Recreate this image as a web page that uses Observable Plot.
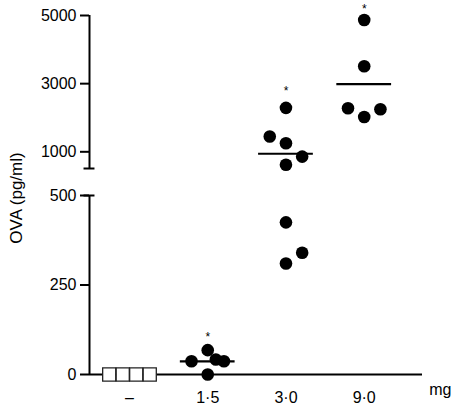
<!DOCTYPE html>
<html><head><meta charset="utf-8">
<script src="https://cdn.jsdelivr.net/npm/d3@7"></script>
<script src="https://cdn.jsdelivr.net/npm/@observablehq/plot@0.6"></script>
<style>
body{margin:0;background:#fff;}
#chart svg{font-family:"Liberation Sans",Arial,Helvetica,sans-serif;}
</style>
</head><body><div id="chart"></div>
<script>
// ---- data ----
const categories = ["–", "1·5", "3·0", "9·0"];
const unitLabel = "mg";
const yLabel = "OVA (pg/ml)";
const yTicks = [0, 250, 500, 1000, 3000, 5000];
const lowerSegment = [0, 500];
const upperSegment = [510, 5000];
const noneValues   = [0, 0, 0, 0];
const dose15Values = [68, 42, 37, 37, 0];
const dose30Values = [2290, 1450, 1250, 860, 620, 425, 340, 310];
const dose90Values = [4870, 3510, 2280, 2250, 2020];
// horizontal slot of each animal inside its column (scatter layout)
const noneSlots   = [-1.5, -0.5, 0.5, 1.5];
const dose15Slots = [0, 0.6, -1.2, 1.2, 0];
const dose30Slots = [0, -1.2, 0, 1.2, 0, 0, 1.2, 0];
const dose90Slots = [0, 0, -1.2, 1.2, 0];
const starLevels  = [null, 104, 2790, 5175];

// ---- broken y axis: lower segment kept as is, upper segment compressed ----
const gap = 75.4;              // empty space between the two segments (lower-axis units)
const upperRatio = 0.09519;    // compression of the upper segment
function brokenY(v) {
  return v <= lowerSegment[1] ? v : lowerSegment[1] + gap + (v - upperSegment[0]) * upperRatio;
}
function unbrokenY(t) {
  return t <= lowerSegment[1] ? t : upperSegment[0] + (t - lowerSegment[1] - gap) / upperRatio;
}

// ---- build ----
const groups = [
  {values: noneValues, slots: noneSlots, shape: "square"},
  {values: dose15Values, slots: dose15Slots, shape: "circle"},
  {values: dose30Values, slots: dose30Slots, shape: "circle"},
  {values: dose90Values, slots: dose90Slots, shape: "circle"}
];
const points = groups.flatMap((g, i) => g.values.map((v, j) => ({i, value: v, slot: g.slots[j], shape: g.shape})));
const means = groups.map((g, i) => ({i, mean: d3.mean(g.values)})).filter(d => d.i > 0);
const stars = starLevels.map((v, i) => ({i, v})).filter(d => d.v != null);
const segments = [lowerSegment, upperSegment].map(([a, b]) => ({y1: a, y2: b}));

const xDomain = [-0.511, 3.745];
const slotUnit = 0.1726;
const halfMean = 0.35;
const capHalf = 0.07;

const chart = Plot.plot({
  width: 455,
  height: 412,
  marginLeft: 89,
  marginRight: 33,
  marginTop: 15,
  marginBottom: 38,
  style: {fontSize: "16px", background: "#fff"},
  x: {type: "linear", domain: xDomain},
  y: {type: "linear", domain: [0, brokenY(upperSegment[1])]},
  marks: [
    Plot.axisY(yTicks.map(brokenY), {tickSize: 9, tickPadding: 4, strokeWidth: 2, tickFormat: t => String(Math.round(unbrokenY(t))), label: null, fontSize: 16}),
    Plot.axisX({ticks: [0, 1, 2, 3], tickSize: 0, tickPadding: 17, tickFormat: i => categories[i], label: null, fontSize: 16}),
    Plot.ruleX(segments, {x: xDomain[0], y1: d => brokenY(d.y1), y2: d => brokenY(d.y2), strokeWidth: 2}),
    Plot.ruleY([lowerSegment[1], upperSegment[0]], {y: brokenY, x1: xDomain[0] - capHalf, x2: xDomain[0] + capHalf, strokeWidth: 2}),
    Plot.ruleY([0], {strokeWidth: 2}),
    Plot.ruleY(means, {y: d => brokenY(d.mean), x1: d => d.i - halfMean, x2: d => d.i + halfMean, strokeWidth: 2.2}),
    Plot.dot(points.filter(d => d.shape === "square"), {x: d => d.i + d.slot * slotUnit, y: d => brokenY(d.value), symbol: "square", r: 7.4, fill: "white", stroke: "#222", strokeWidth: 1.3}),
    Plot.dot(points.filter(d => d.shape === "circle"), {x: d => d.i + d.slot * slotUnit, y: d => brokenY(d.value), r: 6.3, fill: "black", stroke: "none"}),
    Plot.text(stars, {x: "i", y: d => brokenY(d.v), text: () => "*", fontSize: 12}),
    Plot.text([yLabel], {frameAnchor: "left", textAnchor: "middle", rotate: -90, dx: -73, dy: 3, fontSize: 17}),
    Plot.text([unitLabel], {frameAnchor: "bottom-right", textAnchor: "end", dx: 29, dy: 20, fontSize: 16})
  ]
});
document.getElementById("chart").appendChild(chart);
</script>
</body></html>
